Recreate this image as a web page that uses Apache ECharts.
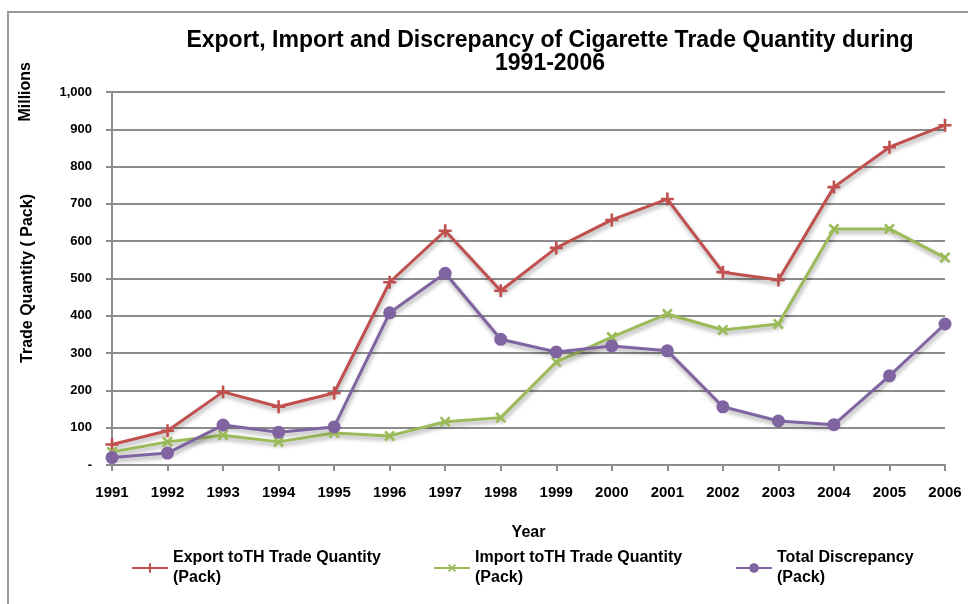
<!DOCTYPE html>
<html lang="en" style="height: 100%">
<head>
    <meta charset="UTF-8">
    <title>Cigarette Trade Quantity 1991-2006</title>
    <script src="https://cdn.jsdelivr.net/npm/echarts@6/dist/echarts.min.js"></script>
</head>
<body style="height: 100%; margin: 0">
<div id="main" style="width: 968px; height: 604px"></div>
<script>
    // values in millions of packs
    var years = ['1991', '1992', '1993', '1994', '1995', '1996', '1997', '1998',
                 '1999', '2000', '2001', '2002', '2003', '2004', '2005', '2006'];
    var exportQty = [55, 92, 196, 156, 193, 490, 628, 467, 582, 657, 713, 517, 496, 745, 852, 911];
    var importQty = [35, 62, 80, 62, 86, 78, 116, 127, 276, 343, 405, 362, 378, 633, 633, 556];
    var discrepancy = [20, 32, 107, 88, 102, 408, 514, 337, 303, 319, 306, 156, 118, 108, 239, 378];
    var yTicks = [0, 100, 200, 300, 400, 500, 600, 700, 800, 900, 1000];
    var names = ['Export toTH Trade Quantity\n(Pack)', 'Import toTH Trade Quantity\n(Pack)', 'Total Discrepancy\n(Pack)'];

    var plusPath = 'path://M4,0h2v4h4v2h-4v4h-2v-4h-4v-2h4z';
    var shadow = {shadowColor: 'rgba(0,0,0,0.35)', shadowBlur: 4, shadowOffsetX: 1, shadowOffsetY: 3};
    var font = 'Liberation Sans';

    function mkSeries(name, data, color, symbol, size, rotate) {
        return {
            name: name,
            type: 'line',
            data: data,
            symbol: symbol,
            symbolSize: size,
            symbolRotate: rotate,
            showAllSymbol: true,
            itemStyle: {color: color},
            lineStyle: Object.assign({color: color, width: 3}, shadow)
        };
    }

    var myChart = echarts.init(document.getElementById('main'));
    myChart.setOption({
        backgroundColor: '#fff',
        animation: false,
        textStyle: {fontFamily: font},
        graphic: [{
            type: 'rect',
            shape: {x: 8, y: 12, width: 980, height: 620},
            style: {fill: 'none', stroke: '#9a9a9a', lineWidth: 2}
        }, {
            type: 'text',
            left: 18, top: 62,
            rotation: Math.PI / 2,
            style: {text: 'Millions', font: 'bold 16px ' + font, fill: '#000'}
        }],
        title: {
            text: 'Export, Import and Discrepancy of Cigarette Trade Quantity during\n1991-2006',
            left: 545, top: 24,
            textAlign: 'center',
            textStyle: {fontSize: 23, fontWeight: 'bold', color: '#000', lineHeight: 23, fontFamily: font}
        },
        grid: {left: 112, right: 23, top: 92, bottom: 139},
        legend: {
            left: 126, top: 543,
            itemWidth: 36, itemHeight: 12, itemGap: 20,
            textStyle: {fontSize: 16, fontWeight: 'bold', color: '#000', lineHeight: 20},
            data: [
                {name: names[0], textStyle: {width: 240}},
                {name: names[1], textStyle: {width: 240}},
                {name: names[2]}
            ]
        },
        xAxis: {
            type: 'category',
            data: years,
            boundaryGap: false,
            name: 'Year',
            nameLocation: 'middle',
            nameGap: 60,
            nameTextStyle: {fontSize: 16, fontWeight: 'bold', color: '#000'},
            axisLine: {lineStyle: {color: '#8c8c8c', width: 2}},
            axisTick: {alignWithLabel: true, length: 6, lineStyle: {color: '#8c8c8c', width: 2}},
            axisLabel: {fontSize: 15, fontWeight: 'bold', color: '#000', margin: 20}
        },
        yAxis: {
            type: 'value',
            min: yTicks[0],
            max: yTicks[yTicks.length - 1],
            interval: 100,
            name: 'Trade Quantity ( Pack)',
            nameLocation: 'middle',
            nameGap: 76,
            nameTextStyle: {fontSize: 16, fontWeight: 'bold', color: '#000'},
            axisLine: {show: true, lineStyle: {color: '#8c8c8c', width: 2}},
            axisTick: {show: true, length: 6, lineStyle: {color: '#8c8c8c', width: 2}},
            splitLine: {lineStyle: {color: '#8c8c8c', width: 2}},
            axisLabel: {
                fontSize: 13, fontWeight: 'bold', color: '#000', margin: 20,
                formatter: function (v) { return v === 0 ? '-' : v.toLocaleString('en-US'); }
            }
        },
        series: [
            mkSeries(names[0], exportQty, '#C0504D', plusPath, 13, 0),
            mkSeries(names[1], importQty, '#9BBB59', plusPath, 13, 45),
            mkSeries(names[2], discrepancy, '#8064A2', 'circle', 13, 0)
        ]
    });
</script>
</body>
</html>
